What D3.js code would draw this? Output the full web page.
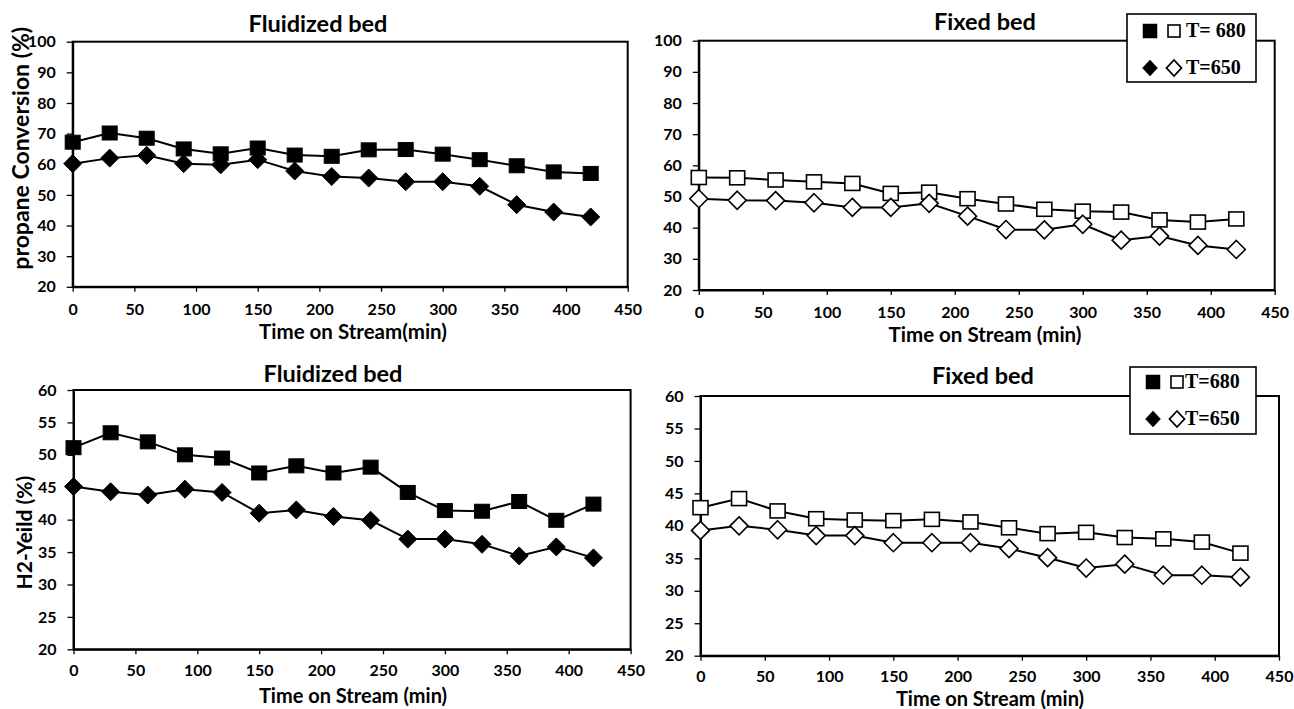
<!DOCTYPE html>
<html>
<head>
<meta charset="utf-8">
<script src="https://cdn.jsdelivr.net/npm/d3@7"></script>
<style>
  html, body { margin: 0; padding: 0; background: #fff; }
  svg { display: block; }
  .tick text { font-family: Lato, "Open Sans", sans-serif; font-weight: 700; font-size: 16px; fill: #000; }
</style>
</head>
<body>
<svg id="chart" width="1294" height="709"></svg>
<script>
// Time on stream (min)
const times = [0, 30, 60, 90, 120, 150, 180, 210, 240, 270, 300, 330, 360, 390, 420];

// Propane conversion (%)
const fluidConv680 = [67.2, 70.2, 68.5, 65.0, 63.4, 65.3, 63.0, 62.6, 64.7, 64.8, 63.3, 61.5, 59.5, 57.5, 57.0];
const fluidConv650 = [60.2, 62.0, 62.9, 60.2, 59.8, 61.5, 57.8, 56.0, 55.5, 54.3, 54.3, 52.8, 46.8, 44.4, 42.8];
const fixedConv680 = [56.1, 56.0, 55.3, 54.7, 54.2, 51.0, 51.4, 49.3, 47.6, 45.9, 45.3, 45.0, 42.5, 41.8, 42.8];
const fixedConv650 = [49.3, 48.8, 48.7, 48.0, 46.5, 46.5, 47.8, 43.7, 39.4, 39.3, 41.1, 36.0, 37.3, 34.3, 33.0];

// H2 yield (%)
const fluidH2_680 = [51.1, 53.4, 52.0, 50.0, 49.5, 47.2, 48.3, 47.2, 48.1, 44.2, 41.4, 41.3, 42.8, 39.9, 42.4];
const fluidH2_650 = [45.1, 44.3, 43.8, 44.7, 44.2, 41.0, 41.5, 40.5, 39.9, 37.0, 37.0, 36.2, 34.4, 35.8, 34.1];
const fixedH2_680 = [42.8, 44.2, 42.3, 41.1, 40.9, 40.8, 41.0, 40.6, 39.7, 38.8, 39.0, 38.2, 38.0, 37.5, 35.8];
const fixedH2_650 = [39.3, 40.0, 39.4, 38.5, 38.5, 37.4, 37.4, 37.4, 36.5, 35.1, 33.5, 34.1, 32.4, 32.4, 32.1];

// Tick values
const timeTicks = [0, 50, 100, 150, 200, 250, 300, 350, 400, 450];
const convTicks = [20, 30, 40, 50, 60, 70, 80, 90, 100];
const yieldTicks = [20, 25, 30, 35, 40, 45, 50, 55, 60];

// Text
const titles = ["Fluidized bed", "Fixed bed", "Fluidized bed", "Fixed bed"];
const xTitles = ["Time on Stream(min)", "Time on Stream (min)", "Time on Stream (min)", "Time on Stream (min)"];
const yTitles = ["propane Conversion (%)", "H2-Yeild (%)"];
const legendTop = ["T= 680", "T=650"];
const legendBottom = ["T=680", "T=650"];

const svg = d3.select("#chart");
const sansFont = 'Lato, "Open Sans", sans-serif';
const serifFont = '"Liberation Serif", "DejaVu Serif", serif';

function marker(g, kind, filled, cx, cy) {
  const fill = filled ? "#000" : "#fff";
  if (kind === "square") {
    g.append("rect")
      .attr("x", cx - 7.5).attr("y", cy - 7)
      .attr("width", 15).attr("height", 14)
      .attr("fill", fill).attr("stroke", "#000").attr("stroke-width", filled ? 1 : 1.6);
  } else {
    const w = 9, h = 9;
    g.append("path")
      .attr("d", `M${cx},${cy - h}L${cx + w},${cy}L${cx},${cy + h}L${cx - w},${cy}Z`)
      .attr("fill", fill).attr("stroke", "#000").attr("stroke-width", filled ? 1 : 1.6);
  }
}

function legendMarker(g, kind, filled, cx, cy) {
  const fill = filled ? "#000" : "#fff";
  if (kind === "square") {
    const s = filled ? 14 : 12;
    g.append("rect")
      .attr("x", cx - s / 2).attr("y", cy - s / 2)
      .attr("width", s).attr("height", s)
      .attr("fill", fill).attr("stroke", "#000").attr("stroke-width", filled ? 0.5 : 1.6);
  } else {
    const w = 7.5, h = 8;
    g.append("path")
      .attr("d", `M${cx},${cy - h}L${cx + w},${cy}L${cx},${cy + h}L${cx - w},${cy}Z`)
      .attr("fill", fill).attr("stroke", "#000").attr("stroke-width", filled ? 0.5 : 1.8);
  }
}

function panel(opt) {
  const { left, right, top, bottom, yDomain, yTicks, series, filled } = opt;
  const x = d3.scaleLinear().domain([0, 450]).range([left, right]);
  const y = d3.scaleLinear().domain(yDomain).range([bottom, top]);
  const g = svg.append("g");

  // frame
  g.append("rect")
    .attr("x", left).attr("y", top)
    .attr("width", right - left).attr("height", bottom - top)
    .attr("fill", "none").attr("stroke", "#000").attr("stroke-width", 2);

  // axes
  const xAxis = g.append("g").attr("transform", `translate(0,${bottom})`)
    .call(d3.axisBottom(x).tickValues(timeTicks).tickSizeInner(5).tickSizeOuter(0).tickPadding(opt.xPad));
  const yAxis = g.append("g").attr("transform", `translate(${left},0)`)
    .call(d3.axisLeft(y).tickValues(yTicks).tickSizeInner(6).tickSizeOuter(0).tickPadding(11));
  [xAxis, yAxis].forEach(a => {
    a.select(".domain").attr("stroke", "#000").attr("stroke-width", 2);
    a.selectAll(".tick line").attr("stroke", "#000").attr("stroke-width", 1.3);
  });
  xAxis.selectAll(".tick text").attr("dy", "0.71em");

  // series
  const line = d3.line().x(d => x(d[0])).y(d => y(d[1]));
  series.forEach(s => {
    const pts = times.map((t, i) => [t, s.values[i]]);
    g.append("path").attr("d", line(pts))
      .attr("fill", "none").attr("stroke", "#000").attr("stroke-width", 2);
    const mg = g.append("g");
    pts.forEach(p => marker(mg, s.kind, filled, x(p[0]), y(p[1])));
  });

  // title
  g.append("text").attr("x", opt.titleX).attr("y", opt.titleY)
    .attr("text-anchor", "middle")
    .style("font-family", sansFont).style("font-weight", 700).style("font-size", "23.5px")
    .text(opt.title);

  // x title
  g.append("text").attr("x", opt.xTitleX).attr("y", opt.xTitleY)
    .attr("text-anchor", "middle")
    .style("font-family", sansFont).style("font-weight", 700).style("font-size", opt.xTitleSize)
    .text(opt.xTitle);

  // y title
  if (opt.yTitle) {
    g.append("text")
      .attr("transform", `translate(${opt.yTitleX},${(top + bottom) / 2 + (opt.yTitleShift || 0)}) rotate(-90)`)
      .attr("text-anchor", "middle")
      .style("font-family", sansFont).style("font-weight", 700).style("font-size", opt.yTitleSize)
      .text(opt.yTitle);
  }

  // legend
  if (opt.legend) {
    const L = opt.legend;
    g.append("rect").attr("x", L.x0).attr("y", L.y0)
      .attr("width", L.x1 - L.x0).attr("height", L.y1 - L.y0)
      .attr("fill", "#fff").attr("stroke", "#000").attr("stroke-width", 1.6);
    const kinds = ["square", "diamond"];
    L.labels.forEach((lab, i) => {
      const cy = L.rows[i];
      legendMarker(g, kinds[i], true, L.sx[0], cy);
      legendMarker(g, kinds[i], false, L.sx[1], cy);
      g.append("text").attr("x", L.tx).attr("y", cy + 6)
        .style("font-family", serifFont).style("font-weight", 700).style("font-size", "20px")
        .text(lab);
    });
  }
}

panel({
  left: 72.7, right: 627.7, top: 41.7, bottom: 286.8,
  yDomain: [20, 100], yTicks: convTicks, filled: true, xPad: 12,
  series: [{ values: fluidConv680, kind: "square" }, { values: fluidConv650, kind: "diamond" }],
  title: titles[0], titleX: 318, titleY: 32,
  xTitle: xTitles[0], xTitleX: 353, xTitleY: 339, xTitleSize: "20.5px",
  yTitle: yTitles[0], yTitleX: 29, yTitleSize: "23px", yTitleShift: -16
});

panel({
  left: 698.8, right: 1274.7, top: 40.7, bottom: 290,
  yDomain: [20, 100], yTicks: convTicks, filled: false, xPad: 12,
  series: [{ values: fixedConv680, kind: "square" }, { values: fixedConv650, kind: "diamond" }],
  title: titles[1], titleX: 985, titleY: 30,
  xTitle: xTitles[1], xTitleX: 985, xTitleY: 342, xTitleSize: "20.5px",
  legend: { x0: 1127, x1: 1256, y0: 14, y1: 82, rows: [31, 68], sx: [1150, 1174], tx: 1186, labels: legendTop }
});

panel({
  left: 73.5, right: 630.6, top: 390, bottom: 649.3,
  yDomain: [20, 60], yTicks: yieldTicks, filled: true, xPad: 10,
  series: [{ values: fluidH2_680, kind: "square" }, { values: fluidH2_650, kind: "diamond" }],
  title: titles[2], titleX: 333, titleY: 382,
  xTitle: xTitles[2], xTitleX: 353, xTitleY: 703, xTitleSize: "20px",
  yTitle: yTitles[1], yTitleX: 32, yTitleSize: "21px", yTitleShift: 13
});

panel({
  left: 700.5, right: 1279, top: 396, bottom: 655.7,
  yDomain: [20, 60], yTicks: yieldTicks, filled: false, xPad: 10,
  series: [{ values: fixedH2_680, kind: "square" }, { values: fixedH2_650, kind: "diamond" }],
  title: titles[3], titleX: 983, titleY: 384,
  xTitle: xTitles[3], xTitleX: 990, xTitleY: 706, xTitleSize: "20px",
  legend: { x0: 1130, x1: 1256, y0: 367, y1: 434, rows: [382, 419], sx: [1153, 1177], tx: 1185, labels: legendBottom }
});
</script>
</body>
</html>
